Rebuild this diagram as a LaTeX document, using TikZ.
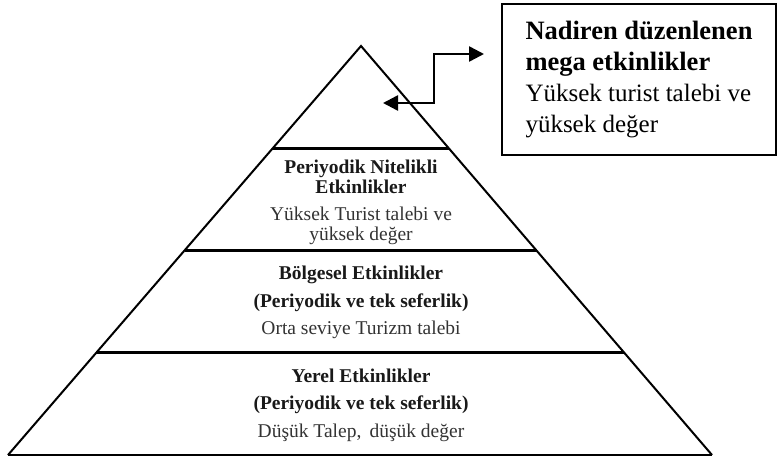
\documentclass[tikz,border=0pt]{standalone}
\usepackage{fontspec}
\setmainfont{Liberation Serif}
\usepackage{xcolor}
\usepackage{tikz}
\usetikzlibrary{arrows.meta,positioning,calc}
\tikzset{
  sideline/.style={line width=2pt,line join=miter},
  tierline/.style={line width=2.7pt},
  tierhead/.style={align=center,inner sep=0pt,text=black!90,font=\fontsize{19.5}{20}\selectfont\bfseries},
  tiertext/.style={align=center,inner sep=0pt,text=black!80,font=\fontsize{19.5}{20}\selectfont},
  tierblock/.style={align=center,inner sep=0pt,text=black!80,font=\fontsize{19.5}{27.5}\selectfont},
  megabox/.style={draw,line width=2pt,minimum width=274pt,minimum height=151pt,align=left,font=\fontsize{25}{31}\selectfont},
  elbowarrow/.style={{Triangle[length=15pt,width=15pt]}-{Triangle[length=15pt,width=15pt]},line width=2.5pt}
}

\begin{document}
\begin{tikzpicture}[x=1pt,y=-1pt,node distance=13pt]
  \useasboundingbox[fill=white] (0,0) rectangle (778,462);
  \coordinate (apex) at (361,46);
  \coordinate (bl) at (8,455);
  \coordinate (br) at (712,455);
  \draw[sideline] (bl) -- (apex) -- (br);
  \draw[tierline] (bl) -- (br);
  \foreach \t in {0.25,0.5,0.75}
    \draw[tierline] ($(apex)!\t!(bl)$) -- ($(apex)!\t!(br)$);
  \node[tierhead] (periyodik) at (361,177) {Periyodik Nitelikli\\Etkinlikler};
  \node[tiertext,below=of periyodik] (periyodikval) {Yüksek Turist talebi ve\\yüksek değer};
  \node[tierblock] (bolgesel) at (361,302.5) {\textcolor{black!90}{\bfseries Bölgesel Etkinlikler}\\\textcolor{black!90}{\bfseries (Periyodik ve tek seferlik)}\\Orta seviye Turizm talebi};
  \node[tierblock] (yerel) at (361,405) {\textcolor{black!90}{\bfseries Yerel Etkinlikler}\\\textcolor{black!90}{\bfseries (Periyodik ve tek seferlik)}\\Düşük Talep,\ \,düşük değer};
  \node[megabox] (mega) at (639,79.5) {{\fontsize{26.5}{31}\selectfont\bfseries Nadiren düzenlenen}\\{\fontsize{26.5}{31}\selectfont\bfseries mega etkinlikler}\\Yüksek turist talebi ve\\yüksek değer};
  \coordinate (tipin) at (383,103);
  \coordinate (tipout) at ($(mega.north west)+(-17,51)$);
  \draw[elbowarrow] (tipin) -- (434,103) |- (tipout);
\end{tikzpicture}
\end{document}
